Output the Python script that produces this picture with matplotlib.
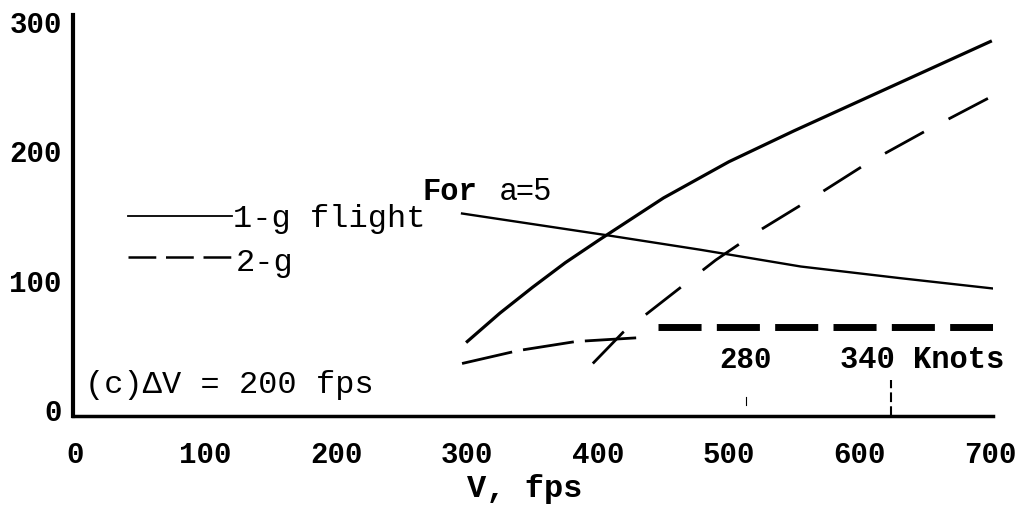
import numpy as np
import matplotlib.pyplot as plt

# ---- data ----
v_1g_rise = [300, 325, 350, 375, 400, 450, 500, 550, 600, 650, 700]
y_1g_rise = [53, 75, 95, 114, 131, 164, 192, 216, 239, 262, 285]

v_2g_rise = [396, 419, 457, 490, 522, 564, 606, 649, 700]
y_2g_rise = [36, 60, 90, 116, 138, 164, 191, 215, 242]

v_1g_a5 = [296, 408, 478, 555, 631, 702]
y_1g_a5 = [152, 135, 124, 111, 102, 94]

v_2g_a5 = [296, 339, 383, 432]
y_2g_a5 = [36, 46, 53, 56]

v_2g_flat = [446, 702]
y_2g_flat = [64, 64]

knots_v = [513, 624]
knots_lbl = ["280", "340"]

xticks = [0, 100, 200, 300, 400, 500, 600, 700]
yticks = [0, 100, 200, 300]

plt.rcParams['lines.scale_dashes'] = False
MONO = ['Liberation Mono', 'DejaVu Sans Mono']

fig = plt.figure(figsize=(10.23, 5.11), dpi=100)
ax = fig.add_axes([73/1023, 1 - 416/511, 920/1023, 401/511])

ax.plot(v_1g_rise, y_1g_rise, color='black', lw=2.3)
ax.plot(v_2g_rise, y_2g_rise, color='black', lw=2.0, dashes=(32, 20))
ax.plot(v_1g_a5, y_1g_a5, color='black', lw=1.7)
ax.plot(v_2g_a5, y_2g_a5, color='black', lw=2.0, dashes=(37, 8))
ax.plot(v_2g_flat, y_2g_flat, color='black', lw=5, dashes=(31, 11))

# knots markers
ax.plot([knots_v[1], knots_v[1]], [-4.6, 23], color='black', lw=1.5, dashes=(7, 3))
ax.plot([knots_v[0], knots_v[0]], [4, 10], color='black', lw=0.8)
ax.text(knots_v[0], 39, knots_lbl[0], family=MONO, weight='bold', fontsize=21,
        ha='center', va='center')
ax.text(585, 39, knots_lbl[1] + " Knots", family=MONO, weight='bold', fontsize=22,
        ha='left', va='center')

# legend drawn by hand like the original
ax.plot([40.5, 120], [150, 150], color='black', lw=1.3)
ax.text(121, 148, "1-g flight", family=MONO, fontsize=23, ha='left', va='center')
ax.plot([40.5, 120], [118, 118], color='black', lw=1.8, dashes=(20, 7))
ax.text(123, 114, "2-g", family=MONO, fontsize=23, ha='left', va='center')

ax.text(266, 169, "For", family=MONO, weight='bold', fontsize=22, ha='left', va='center')
ax.text(325, 169, "a=5", family=['Liberation Sans', 'DejaVu Sans'], fontsize=22,
        ha='left', va='center')

ax.text(7.6, 19, "(c)\u0394V = 200 fps", family=MONO, fontsize=23, ha='left', va='center')

ax.set_xlim(-1.5, 702)
ax.set_ylim(-4.6, 305.5)
ax.set_xticks(xticks)
ax.set_yticks(yticks)
ax.tick_params(length=0)
ax.tick_params(axis='x', pad=18)
ax.tick_params(axis='y', pad=8)
for lbl in ax.get_xticklabels() + ax.get_yticklabels():
    lbl.set_family(MONO)
    lbl.set_weight('bold')
    lbl.set_fontsize(21)

for s in ['top', 'right']:
    ax.spines[s].set_visible(False)
ax.spines['left'].set_linewidth(3)
ax.spines['bottom'].set_linewidth(2.5)

fig.text(525/1023, 1 - 497/511, "V, fps", family=MONO, weight='bold', fontsize=23,
         ha='center', va='baseline')

fig.savefig("out.png", dpi=100)
